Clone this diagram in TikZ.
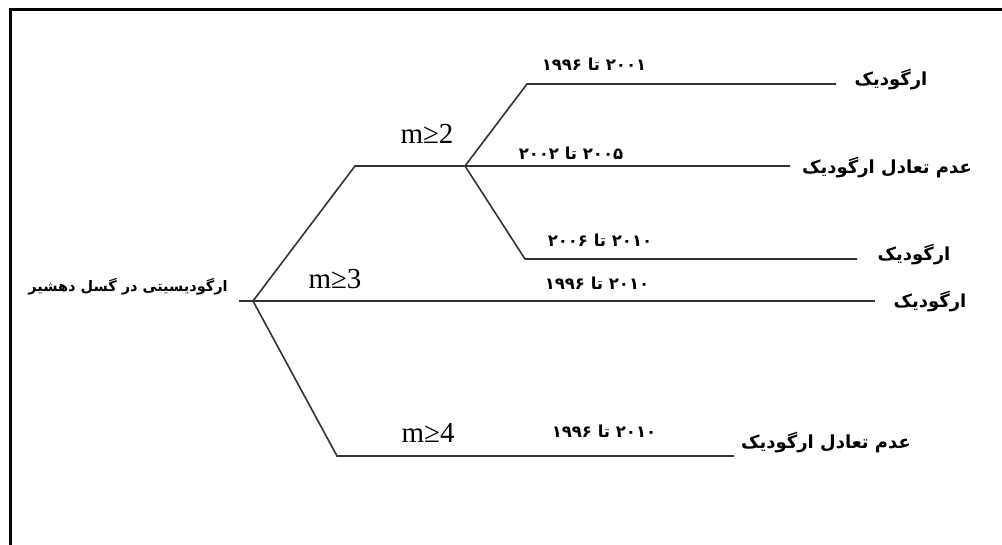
\documentclass[tikz,border=0pt]{standalone}
\usepackage{fontspec}
\setmainfont{Liberation Serif}
\newfontfamily\fa[Script=Arabic]{DejaVu Sans}
\TeXXeTstate=1
\tikzset{
  br/.style={line width=1.6pt, draw=black!80},
  fatext/.style={font=\fa\bfseries\fontsize{18}{22}\selectfont, inner sep=0pt},
  roottext/.style={font=\fa\bfseries\fontsize{14.5}{18}\selectfont, inner sep=0pt},
  yrtext/.style={font=\fa\bfseries\fontsize{16.5}{20}\selectfont, inner sep=0pt},
  mtext/.style={font=\fontsize{29}{33}\selectfont, inner sep=0pt},
}
\begin{document}
\begin{tikzpicture}[x=1pt,y=-1pt]
\useasboundingbox (0,0) rectangle (1002,545);
\fill[white] (0,0) rectangle (1002,545);
\draw[line width=3pt] (10,545) -- (10,10) -- (1002,10);
% coordinates
\coordinate (start) at (239,301);
\coordinate (root) at (253,301);
\coordinate (k1) at (355,166);
\coordinate (j) at (465,166);
\coordinate (k2) at (527,84);
\coordinate (k3) at (525,259);
\coordinate (k4) at (337,456);
\coordinate (e1) at (836,84);
\coordinate (e2) at (790,166);
\coordinate (e3) at (857,259);
\coordinate (e4) at (875,301);
\coordinate (e5) at (734,456);
% branches
\draw[br] (root) -- (k1) -- (j) -- (e2);
\draw[br] (j) -- (k2) -- (e1);
\draw[br] (j) -- (k3) -- (e3);
\draw[br] (start) -- (e4);
\draw[br] (root) -- (k4) -- (e5);
% labels
\node[roottext] (root lab) at (128,287) {\beginR ارگودیسیتی در گسل دهشیر\endR};
\node[fatext] (l1) at (891,80) {\beginR ارگودیک\endR};
\node[fatext] (l2) at (887,168) {\beginR عدم تعادل ارگودیک\endR};
\node[fatext] (l3) at (914,255) {\beginR ارگودیک\endR};
\node[fatext] (l4) at (930,302) {\beginR ارگودیک\endR};
\node[fatext] (l5) at (826,443) {\beginR عدم تعادل ارگودیک\endR};
\node[yrtext] (y1) at (594,64) {\beginR ۲۰۰۱ تا ۱۹۹۶\endR};
\node[yrtext] (y2) at (571,153) {\beginR ۲۰۰۵ تا ۲۰۰۲\endR};
\node[yrtext] (y3) at (600,240) {\beginR ۲۰۱۰ تا ۲۰۰۶\endR};
\node[yrtext] (y4) at (597,283) {\beginR ۲۰۱۰ تا ۱۹۹۶\endR};
\node[yrtext] (y5) at (604,431) {\beginR ۲۰۱۰ تا ۱۹۹۶\endR};
\node[mtext] (m2) at (427,134) {m≥2};
\node[mtext] (m3) at (335,279) {m≥3};
\node[mtext] (m4) at (428,433) {m≥4};
\end{tikzpicture}
\end{document}
